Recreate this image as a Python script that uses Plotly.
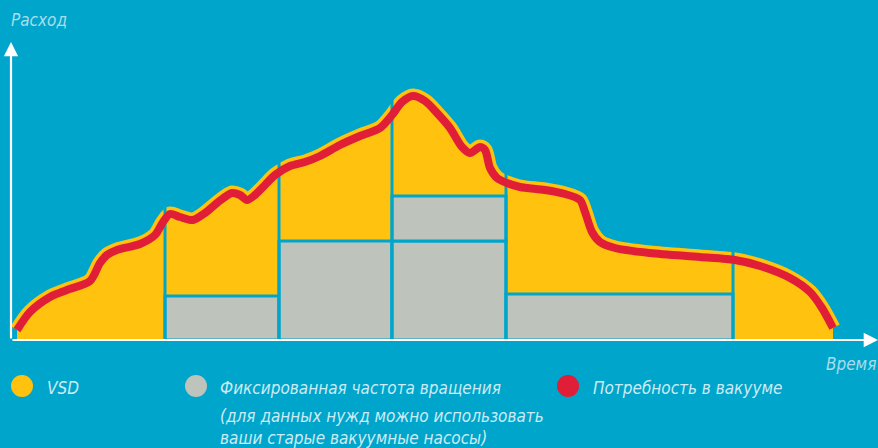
import plotly.graph_objects as go

# ---- data (time units, flow units; origin at the axes corner) ----
time = [6, 19, 39, 56, 79, 89, 96, 106, 129, 144, 152, 159, 169, 182, 194, 206, 221, 229, 236,
        244, 254, 264, 279, 294, 309, 329, 349, 369, 381, 391, 402, 414, 426, 439, 451, 459,
        469, 474, 479, 486, 496, 509, 534, 554, 569, 574, 581, 589, 604, 639, 689, 724, 749,
        779, 799, 811, 822]
demand = [10, 28, 43, 50, 59, 77, 85, 90, 96, 105, 118, 126, 123, 120, 127, 137, 147, 145,
          140, 145, 155, 165, 174, 178, 184, 195, 204, 212, 225, 238, 244, 239, 227, 212, 193,
          187, 193, 190, 172, 162, 157, 153, 150, 146, 140, 128, 108, 98, 92, 87, 83, 80, 74,
          62, 48, 32, 12]

seg_edges = [154, 268, 381, 495, 722]          # pump switching times
blk_start = [154, 268, 381, 381, 495]          # fixed speed pump blocks
blk_end = [268, 381, 495, 495, 722]
blk_base = [0, 0, 0, 99, 0]
blk_top = [44, 99, 99, 144, 46]

legend_labels = ["VSD", "Фиксированная частота вращения",
                 "(для данных нужд можно использовать", "ваши старые вакуумные насосы)",
                 "Потребность в вакууме"]
axis_labels = ["Расход", "Время"]

BG = "#00A5CB"
YEL = "#FFC20E"
RED = "#E01E37"
GRAY = "#BEC3BC"
TXT = "#CDEBF4"
FONT = "Liberation Sans Narrow, DejaVu Sans Condensed, sans-serif"

fig = go.Figure()

# yellow VSD area
fig.add_trace(go.Scatter(x=time, y=demand, mode="lines", fill="tozeroy", fillcolor=YEL,
                         line=dict(color=YEL, width=0, shape="spline", smoothing=0.8),
                         hoverinfo="skip", showlegend=False))

# grey fixed-speed blocks (closed rectangles built from block data)
for a, b, lo, hi in zip(blk_start, blk_end, blk_base, blk_top):
    fig.add_trace(go.Scatter(x=[a, b, b, a, a], y=[lo, lo, hi, hi, lo], mode="lines",
                             fill="toself", fillcolor=GRAY,
                             line=dict(color=BG, width=3),
                             hoverinfo="skip", showlegend=False))

# yellow outline of the demand curve
fig.add_trace(go.Scatter(x=time, y=demand, mode="lines",
                         line=dict(color=YEL, width=15, shape="spline", smoothing=0.8),
                         hoverinfo="skip", showlegend=False))

# dividers between pump stages
dx, dy = [], []
for e in seg_edges:
    dx += [e, e, None]
    dy += [0, 300, None]
fig.add_trace(go.Scatter(x=dx, y=dy, mode="lines", line=dict(color=BG, width=3),
                         hoverinfo="skip", showlegend=False))

# red demand curve
fig.add_trace(go.Scatter(x=time, y=demand, mode="lines",
                         line=dict(color=RED, width=8, shape="spline", smoothing=0.8),
                         hoverinfo="skip", showlegend=False))

# legend markers
fig.add_trace(go.Scatter(x=[11, 185, 557], y=[-46, -46, -46], mode="markers",
                         marker=dict(size=22, color=[YEL, GRAY, RED], line=dict(width=0)),
                         hoverinfo="skip", showlegend=False))

ann = []
# axes arrows
ann.append(dict(x=867, y=0, ax=0, ay=0, xref="x", yref="y", axref="x", ayref="y",
                showarrow=True, arrowhead=2, arrowsize=1.3, arrowwidth=2.2,
                arrowcolor="white", text="", standoff=0, startstandoff=0))
ann.append(dict(x=0, y=298, ax=0, ay=0, xref="x", yref="y", axref="x", ayref="y",
                showarrow=True, arrowhead=2, arrowsize=1.3, arrowwidth=2.2,
                arrowcolor="white", text="", standoff=0, startstandoff=0))

def label(x, y, s, anchor="left", color=TXT, size=17):
    ann.append(dict(x=x, y=y, xref="x", yref="y", text="<i>" + s + "</i>", showarrow=False,
                    xanchor=anchor, yanchor="middle",
                    font=dict(family=FONT, size=size, color=color)))

label(-2, 320, axis_labels[0], color="#A9DDEC")
label(867, -24, axis_labels[1], anchor="right", color="#A9DDEC")
label(34, -48, legend_labels[0])
label(207, -48, legend_labels[1])
label(207, -76, legend_labels[2])
label(207, -98, legend_labels[3])
label(580, -48, legend_labels[4])

fig.update_layout(
    width=878, height=448, margin=dict(l=0, r=0, t=0, b=0),
    paper_bgcolor=BG, plot_bgcolor=BG,
    xaxis=dict(range=[-11, 867], visible=False, fixedrange=True),
    yaxis=dict(range=[-108, 340], visible=False, fixedrange=True),
    annotations=ann, showlegend=False,
)

fig.write_html("out.html")
